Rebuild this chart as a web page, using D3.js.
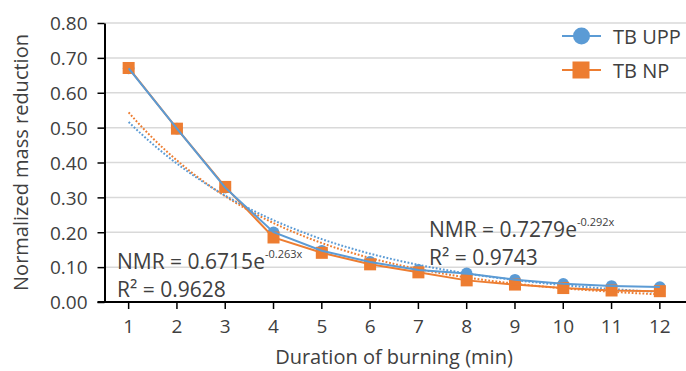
<!DOCTYPE html>
<html>
<head>
<meta charset="utf-8">
<script src="https://cdn.jsdelivr.net/npm/d3@7"></script>
<style>
  body { margin: 0; background: #fff; }
  text { font-family: "Open Sans", "Noto Sans", sans-serif; fill: #404040; }
</style>
</head>
<body>
<script>
let minutes = ['1', '2', '3', '4', '5', '6', '7', '8', '9', '10', '11', '12'];
let tbUpp = [0.670, 0.497, 0.328, 0.200, 0.147, 0.115, 0.092, 0.082, 0.064, 0.052, 0.046, 0.043];
let tbNp = [0.671, 0.497, 0.330, 0.185, 0.141, 0.108, 0.085, 0.062, 0.050, 0.040, 0.033, 0.031];
let yTicks = [0, 0.1, 0.2, 0.3, 0.4, 0.5, 0.6, 0.7, 0.8];
// exponential trendlines as printed on the chart: NMR = a * e^(b x)
let fitUpp = { a: 0.6715, b: -0.263, r2: '0.9628' };
let fitNp = { a: 0.7279, b: -0.292, r2: '0.9743' };

let blue = '#5b9bd5';
let orange = '#ed7d31';

let svg = d3.select('body')
  .append('svg')
  .attr('width', 686)
  .attr('height', 371);

let plotLeft = 104.5;
let plotRight = 684;
let plotTop = 23;
let plotBottom = 302;

let x = d3.scaleBand().domain(minutes).range([plotLeft, plotRight]);
let bw = x.bandwidth();
let cx = d => x(d) + bw / 2;
let xLin = d3.scaleLinear().domain([1, 12]).range([cx('1'), cx('12')]);
let y = d3.scaleLinear().domain([0, 0.8]).range([plotBottom, plotTop]);

// gridlines
svg.append('g').selectAll('line').data(yTicks.slice(1))
  .enter().append('line')
  .attr('x1', plotLeft).attr('x2', 686)
  .attr('y1', d => y(d)).attr('y2', d => y(d))
  .attr('stroke', '#d9d9d9')
  .attr('stroke-width', 1.5);

// y axis
let yAxis = svg.append('g')
  .attr('transform', `translate(${plotLeft},0)`)
  .call(d3.axisLeft(y).tickValues(yTicks).tickFormat(d3.format('.2f')).tickSize(7).tickSizeOuter(0));
yAxis.select('.domain').attr('stroke', '#000').attr('stroke-width', 2);
yAxis.selectAll('.tick line').attr('stroke', '#000').attr('stroke-width', 1.5);
yAxis.selectAll('.tick text')
  .attr('x', -17).attr('dy', '0.36em')
  .style('font-size', '19px')
  .style('font-family', '"Open Sans", "Noto Sans", sans-serif')
  .attr('fill', '#3a3a3a');

// x axis
let xAxis = svg.append('g')
  .attr('transform', `translate(0,${plotBottom})`)
  .call(d3.axisBottom(x).tickSize(7).tickSizeOuter(0));
xAxis.select('.domain').attr('stroke', '#000').attr('stroke-width', 2).attr('d', `M${plotLeft - 7},0H686`);
xAxis.selectAll('.tick line').attr('stroke', '#000').attr('stroke-width', 1.5);
xAxis.selectAll('.tick text')
  .attr('y', 18).attr('dy', '0.71em')
  .style('font-size', '19px')
  .style('font-family', '"Open Sans", "Noto Sans", sans-serif')
  .attr('fill', '#3a3a3a');

// axis titles
svg.append('text')
  .attr('transform', `translate(28,${(plotTop + plotBottom) / 2}) rotate(-90)`)
  .attr('text-anchor', 'middle')
  .style('font-size', '20px')
  .text('Normalized mass reduction');

svg.append('text')
  .attr('x', 394)
  .attr('y', 364)
  .attr('text-anchor', 'middle')
  .style('font-size', '20px')
  .text('Duration of burning (min)');

// trendlines
let xs = d3.range(1, 12.001, 0.1);
let trend = d3.line().x(d => xLin(d[0])).y(d => y(d[1]));
[[fitNp, orange], [fitUpp, blue]].forEach(([f, c]) => {
  svg.append('path')
    .datum(xs.map(v => [v, f.a * Math.exp(f.b * v)]))
    .attr('d', trend)
    .attr('fill', 'none')
    .attr('stroke', c)
    .attr('stroke-width', 2)
    .attr('stroke-dasharray', '1.8 1.8');
});

let line = d3.line().x((d, i) => cx(minutes[i])).y(d => y(d));

// markers
svg.append('g').selectAll('circle').data(tbUpp)
  .enter().append('circle')
  .attr('cx', (d, i) => cx(minutes[i]))
  .attr('cy', d => y(d))
  .attr('r', 5.8)
  .attr('fill', blue);

svg.append('g').selectAll('rect').data(tbNp)
  .enter().append('rect')
  .attr('x', (d, i) => cx(minutes[i]) - 6)
  .attr('y', d => y(d) - 6)
  .attr('width', 12).attr('height', 12)
  .attr('fill', orange);

// series lines
svg.append('path').datum(tbNp).attr('d', line)
  .attr('fill', 'none').attr('stroke', orange).attr('stroke-width', 2);
svg.append('path').datum(tbUpp).attr('d', line)
  .attr('fill', 'none').attr('stroke', blue).attr('stroke-width', 2);

// equation labels
function eqLabel(f, px, py) {
  let t = svg.append('text').attr('x', px).attr('y', py).style('font-size', '21px');
  t.append('tspan').text(`NMR = ${f.a}e`);
  t.append('tspan').attr('dy', -11).style('font-size', '11px').text(`${f.b}x`);
  svg.append('text').attr('x', px).attr('y', py + 28).style('font-size', '21px').text(`R² = ${f.r2}`);
}
eqLabel(fitUpp, 117, 269);
eqLabel(fitNp, 429, 237);

// legend
let legend = [
  { name: 'TB UPP', color: blue, shape: 'circle', y: 36 },
  { name: 'TB NP', color: orange, shape: 'square', y: 70 }
];
legend.forEach(l => {
  svg.append('line')
    .attr('x1', 562).attr('x2', 601)
    .attr('y1', l.y).attr('y2', l.y)
    .attr('stroke', l.color).attr('stroke-width', 2);
  if (l.shape === 'circle') {
    svg.append('circle').attr('cx', 581.5).attr('cy', l.y).attr('r', 8.5).attr('fill', l.color);
  } else {
    svg.append('rect').attr('x', 572.5).attr('y', l.y - 8.5).attr('width', 17).attr('height', 17).attr('fill', l.color);
  }
  svg.append('text')
    .attr('x', 613).attr('y', l.y + 8)
    .style('font-size', '20px')
    .text(l.name);
});
</script>
</body>
</html>
